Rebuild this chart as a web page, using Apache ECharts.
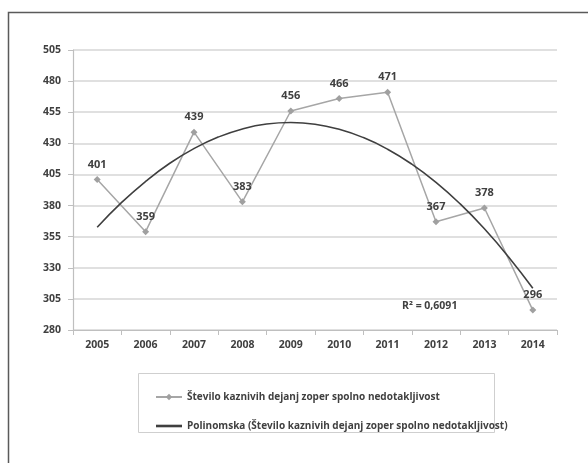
<!DOCTYPE html>
<html>
<head>
<meta charset="utf-8">
<script src="https://cdn.jsdelivr.net/npm/echarts@6/dist/echarts.min.js"></script>
<style>
html,body{margin:0;padding:0;background:#fff;}
#c{width:588px;height:463px;}
</style>
</head>
<body>
<div id="c"></div>
<script>
const years = ['2005','2006','2007','2008','2009','2010','2011','2012','2013','2014'];
const cases = [401, 359, 439, 383, 456, 466, 471, 367, 378, 296];
// polynomial trend line, sampled every half year (position index from 2005 = 0)
const trendX = [0, 0.5, 1, 1.5, 2, 2.5, 3, 3.5, 4, 4.5, 5, 5.5, 6, 6.5, 7, 7.5, 8, 8.5, 9];
const trendY = [362.5, 382.3, 399.4, 414.0, 425.8, 435.0, 441.6, 445.5, 446.7, 445.4, 441.3, 434.6, 425.3, 413.3, 398.6, 381.3, 361.3, 338.7, 313.5];
const yTicks = [280, 305, 330, 355, 380, 405, 430, 455, 480, 505];
const seriesName = 'Število kaznivih dejanj zoper spolno nedotakljivost';
const trendName = 'Polinomska (Število kaznivih dejanj zoper spolno nedotakljivost)';
const r2Text = 'R² = 0,6091';

const font = '"Open Sans", Lato, sans-serif';
const txt = '#404040';
const chart = echarts.init(document.getElementById('c'));
chart.setOption({
  animation: false,
  backgroundColor: '#fff',
  grid: {left: 73, right: 31, top: 50, bottom: 133, containLabel: false},
  xAxis: [{
    type: 'category', data: years, boundaryGap: true,
    axisLine: {onZero: false, lineStyle: {color: '#bfbfbf', width: 1.2}},
    axisTick: {show: true, alignWithLabel: false, length: 5, lineStyle: {color: '#bfbfbf'}},
    axisLabel: {color: txt, fontFamily: font, fontWeight: 'bold', fontSize: 10.5, margin: 10}
  }, {
    type: 'value', min: -0.5, max: years.length - 0.5, show: false
  }],
  yAxis: {
    type: 'value', min: yTicks[0], max: yTicks[yTicks.length - 1], interval: 25,
    axisLine: {show: true, onZero: false, lineStyle: {color: '#bfbfbf', width: 1.2}},
    axisTick: {show: true, length: 5, lineStyle: {color: '#bfbfbf'}},
    splitLine: {lineStyle: {color: '#d6d6d6', width: 1.5}},
    axisLabel: {color: txt, fontFamily: font, fontWeight: 'bold', fontSize: 10.5, margin: 12}
  },
  legend: {
    orient: 'vertical', left: 150, top: 387,
    itemWidth: 26, itemHeight: 8, itemGap: 19,
    textStyle: {color: txt, fontFamily: font, fontWeight: 'bold', fontSize: 10},
    data: [
      {name: seriesName},
      {name: trendName, icon: 'path://M0,0 L10,0 L10,1 L0,1 Z'}
    ]
  },
  graphic: [
    {type: 'rect', shape: {x: 8.5, y: 12.5, width: 620, height: 500}, style: {fill: 'none', stroke: '#5a5a5a', lineWidth: 1.5}, silent: true},
    {type: 'rect', shape: {x: 138.5, y: 373.5, width: 356, height: 59}, style: {fill: 'none', stroke: '#cfcfcf', lineWidth: 1}, silent: true},
    {type: 'text', left: 402, top: 301, style: {text: r2Text, fill: txt, font: 'bold 10.5px ' + font}}
  ],
  series: [
    {
      name: seriesName, type: 'line', data: cases,
      symbol: 'diamond', symbolSize: 7,
      lineStyle: {color: '#a6a6a6', width: 1.5},
      itemStyle: {color: '#a0a0a0'},
      label: {show: true, position: 'top', distance: 6, color: txt, fontFamily: font, fontWeight: 'bold', fontSize: 11},
      z: 2
    },
    {
      name: trendName, type: 'line', xAxisIndex: 1,
      data: trendX.map((x, i) => [x, trendY[i]]), smooth: true,
      symbol: 'none', showSymbol: false,
      lineStyle: {color: '#3f3f3f', width: 1.6},
      itemStyle: {color: '#3f3f3f'},
      z: 3
    }
  ]
});
</script>
</body>
</html>
